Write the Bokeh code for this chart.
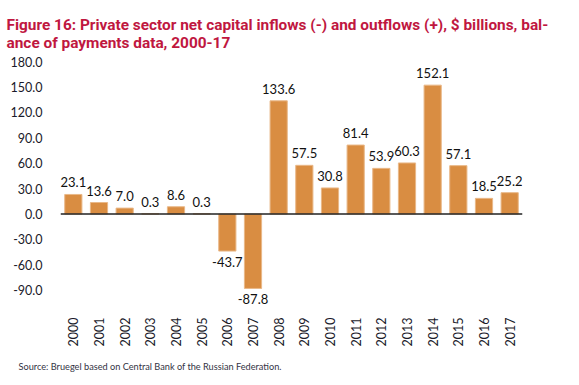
from bokeh.plotting import figure
from bokeh.models import ColumnDataSource, Span, Title, FixedTicker, NumeralTickFormatter, LabelSet
from bokeh.core.properties import value
from bokeh.embed import file_html
from bokeh.resources import INLINE

years = [str(y) for y in range(2000, 2018)]
values = [23.1, 13.6, 7.0, 0.3, 8.6, 0.3, -43.7, -87.8, 133.6, 57.5, 30.8, 81.4, 53.9, 60.3, 152.1, 57.1, 18.5, 25.2]
y_ticks = [-90, -60, -30, 0, 30, 60, 90, 120, 150, 180]

NUM_FONT = "Lato"
TITLE_FONT = "Roboto"

labels = ["%.1f" % v for v in values]
src = ColumnDataSource(dict(
    year=years, value=values, label=labels,
    ytop=[v if v >= 0 else float("nan") for v in values],
    ybot=[v if v < 0 else float("nan") for v in values],
))

p = figure(x_range=years, y_range=(-115, 180), frame_width=462, frame_height=250,
           output_backend="svg", toolbar_location=None,
           min_border_left=60, min_border_right=41, min_border_top=61, min_border_bottom=50)
p.outline_line_color = None
p.xgrid.visible = False
p.ygrid.visible = False

p.vbar(x="year", top="value", bottom=0, width=0.67, source=src,
       fill_color="#D98D42", line_color="#E9B888", line_width=1)

p.add_layout(Span(location=0, dimension="width", line_color="#222222", line_width=1.5))

pos = LabelSet(x="year", y="ytop", text="label", source=src, text_align="center",
               text_baseline="bottom", y_offset=7, text_font=value(NUM_FONT),
               text_font_size=value("13px"), text_color="#111111")
neg = LabelSet(x="year", y="ybot", text="label", source=src, text_align="center",
               text_baseline="top", y_offset=-6, text_font=value(NUM_FONT),
               text_font_size=value("13px"), text_color="#111111")
p.add_layout(pos)
p.add_layout(neg)

p.yaxis.ticker = FixedTicker(ticks=y_ticks)
p.yaxis.formatter = NumeralTickFormatter(format="0.0")
p.yaxis.axis_line_color = None
p.yaxis.major_tick_line_color = None
p.yaxis.minor_tick_line_color = None
p.yaxis.major_label_text_font = NUM_FONT
p.yaxis.major_label_text_font_size = "12.5px"
p.yaxis.major_label_text_color = "#1a1a2a"
p.yaxis.major_label_standoff = 12

p.xaxis.axis_line_color = None
p.xaxis.major_tick_line_color = None
p.xaxis.minor_tick_line_color = None
p.xaxis.major_label_orientation = 1.5708
p.xaxis.major_label_text_font = NUM_FONT
p.xaxis.major_label_text_font_size = "12.5px"
p.xaxis.major_label_text_color = "#1a1a2a"
p.xaxis.major_label_standoff = 0

p.add_layout(Title(text="Source: Bruegel based on Central Bank of the Russian Federation.",
                   text_font=NUM_FONT, text_font_size="9.2px",
                   text_font_style="normal", text_color="#333344", align="left",
                   offset=-42, standoff=18), "below")

p.add_layout(Title(text="Figure 16: Private sector net capital inflows (-) and outflows (+), $ billions, bal-\nance of payments data, 2000-17",
                   text_font=TITLE_FONT, text_font_size="15.4px", text_font_style="bold",
                   text_color="#C0173F", align="left", offset=-54, standoff=16,
                   vertical_align="top", text_line_height=1.0), "above")

open("out.html", "w").write(file_html(p, INLINE))
